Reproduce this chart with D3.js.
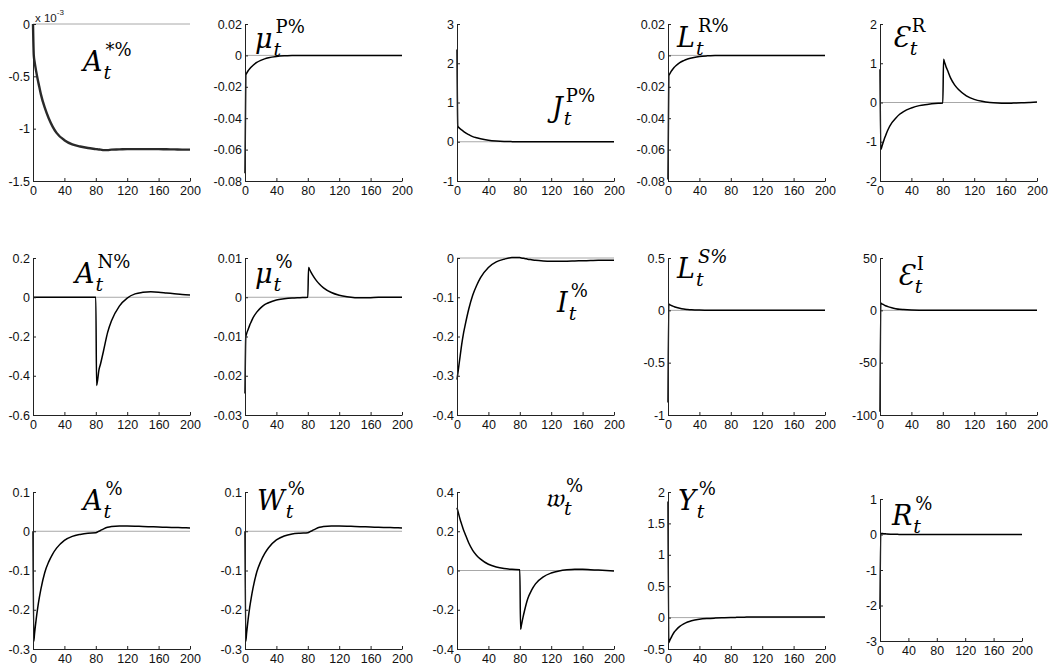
<!DOCTYPE html>
<html>
<head>
<meta charset="utf-8">
<script src="https://cdn.jsdelivr.net/npm/d3@7"></script>
<style>
  body { margin: 0; background: #fff; }
  .tick text { font-family: "Liberation Sans", Arial, sans-serif; font-size: 12.5px; fill: #111; }
  .axis path, .axis line { stroke: #222; }
</style>
</head>
<body>
<svg id="chart" width="1053" height="666"></svg>
<script>
// common time grid (periods) the curves were read at
var T = [0,1,2,4,6,8,10,15,20,25,30,40,50,60,70,80,81,82,84,86,90,95,100,110,120,130,140,150,160,170,180,190,200]
var xTicks = [0,40,80,120,160,200]

// series values, one per point of T
var aStar = [0,-0.3,-0.36,-0.45,-0.53,-0.6,-0.67,-0.8,-0.9,-0.98,-1.04,-1.11,-1.15,-1.17,-1.185,-1.195,-1.196,-1.197,-1.199,-1.2,-1.205,-1.205,-1.2,-1.198,-1.195,-1.195,-1.195,-1.195,-1.195,-1.197,-1.198,-1.2,-1.2]
var muP = [-0.075,-0.0125,-0.0115,-0.0098,-0.0085,-0.0074,-0.0064,-0.0045,-0.0032,-0.0022,-0.0015,-0.0007,-0.0003,-0.0001,0,0,0,0,0,0,0,0,0,0,0,0,0,0,0,0,0,0,0]
var jP = [2.35,0.4,0.37,0.33,0.3,0.27,0.24,0.18,0.13,0.1,0.075,0.04,0.02,0.008,0.003,0.001,0,0,0,0,0,0,0,0,0,0,0,0,0,0,0,0,0]
var lR = [-0.079,-0.013,-0.012,-0.0102,-0.0088,-0.0076,-0.0066,-0.0046,-0.0033,-0.0023,-0.0016,-0.0007,-0.0003,-0.0001,0,0,0,0,0,0,0,0,0,0,0,0,0,0,0,0,0,0,0]
var epsR = [0.85,-1.2,-1.15,-1.02,-0.9,-0.8,-0.7,-0.52,-0.4,-0.3,-0.23,-0.14,-0.08,-0.05,-0.025,-0.01,1.1,1.04,0.92,0.82,0.62,0.45,0.33,0.17,0.08,0.03,0,-0.015,-0.02,-0.015,-0.008,0,0.01]
var aN = [0,0,0,0,0,0,0,0,0,0,0,0,0,0,0,0,-0.45,-0.43,-0.37,-0.34,-0.27,-0.18,-0.12,-0.045,-0.004,0.017,0.025,0.028,0.026,0.022,0.018,0.014,0.012]
var mu = [-0.0245,-0.0101,-0.0093,-0.0082,-0.0071,-0.0062,-0.0053,-0.0038,-0.0027,-0.0019,-0.0014,-0.0007,-0.0004,-0.0002,-0.0001,0,0.0076,0.0072,0.0064,0.0057,0.0045,0.0033,0.0024,0.0012,0.0005,0.0001,-0.0001,-0.00015,-0.0001,0,0,0,0]
var iPct = [-0.31,-0.295,-0.28,-0.25,-0.22,-0.195,-0.175,-0.13,-0.095,-0.07,-0.05,-0.024,-0.01,-0.003,0.001,0.001,0.0005,0,-0.0005,-0.001,-0.003,-0.0045,-0.006,-0.0075,-0.008,-0.008,-0.008,-0.0075,-0.007,-0.0065,-0.006,-0.006,-0.006]
var lS = [-0.88,0.06,0.055,0.047,0.04,0.034,0.029,0.019,0.012,0.008,0.005,0.002,0.001,0,0,0,0,0,0,0,0,0,0,0,0,0,0,0,0,0,0,0,0]
var epsI = [-97,7,6.5,5.6,4.8,4.1,3.5,2.4,1.6,1,0.7,0.3,0.1,0,0,0,0,0,0,0,0,0,0,0,0,0,0,0,0,0,0,0,0]
var aPct = [0,-0.28,-0.26,-0.225,-0.195,-0.17,-0.148,-0.105,-0.078,-0.058,-0.043,-0.023,-0.013,-0.008,-0.005,-0.004,-0.003,-0.002,0,0.002,0.006,0.01,0.012,0.0135,0.0135,0.013,0.012,0.0115,0.011,0.01,0.0095,0.009,0.0085]
var wPct = [0,-0.28,-0.26,-0.224,-0.194,-0.169,-0.147,-0.104,-0.077,-0.057,-0.042,-0.022,-0.012,-0.007,-0.005,-0.004,-0.003,-0.002,0,0.002,0.006,0.01,0.012,0.0135,0.0135,0.013,0.012,0.0115,0.011,0.01,0.0095,0.009,0.0085]
var frakW = [0.32,0.305,0.29,0.26,0.235,0.21,0.19,0.14,0.103,0.077,0.058,0.032,0.018,0.01,0.006,0.004,-0.3,-0.28,-0.24,-0.205,-0.145,-0.1,-0.068,-0.032,-0.013,-0.002,0.004,0.007,0.006,0.004,0.002,0,-0.002]
var yPct = [1.85,-0.4,-0.37,-0.32,-0.27,-0.23,-0.2,-0.14,-0.1,-0.07,-0.05,-0.027,-0.015,-0.008,-0.003,0,0,0.001,0.002,0.003,0.005,0.006,0.008,0.009,0.01,0.01,0.01,0.01,0.01,0.01,0.01,0.01,0.01]
var rPct = [-2.1,0.03,0.028,0.025,0.022,0.019,0.016,0.01,0.006,0.004,0.002,0.001,0,0,0,0,0,0,0,0,0,0,0,0,0,0,0,0,0,0,0,0,0]

// y tick labels per panel
var ticksAStar = [-1.5,-1,-0.5,0]
var ticksMuP = [-0.08,-0.06,-0.04,-0.02,0,0.02]
var ticksJP = [-1,0,1,2,3]
var ticksEpsR = [-2,-1,0,1,2]
var ticksAN = [-0.6,-0.4,-0.2,0,0.2]
var ticksMu = [-0.03,-0.02,-0.01,0,0.01]
var ticksI = [-0.4,-0.3,-0.2,-0.1,0]
var ticksLS = [-1,-0.5,0,0.5]
var ticksEpsI = [-100,-50,0,50]
var ticksA = [-0.3,-0.2,-0.1,0,0.1]
var ticksFrakW = [-0.4,-0.2,0,0.2,0.4]
var ticksY = [-0.5,0,0.5,1,1.5,2]
var ticksR = [-3,-2,-1,0,1]

// panel layout: grid slot, label glyphs and label offset inside the panel
var colX = [33, 245, 457, 668, 880]
var rowY = [24, 258, 492]
var panelW = 157, panelH = 157

var panels = [
  {v: aStar, ticks: ticksAStar, letter: "A", sup: "*%", r: 0, c: 0, lx: 50, ly: 47, thick: true},
  {v: muP, ticks: ticksMuP, letter: "μ", sup: "P%", r: 0, c: 1, lx: 10, ly: 24},
  {v: jP, ticks: ticksJP, letter: "J", sup: "P%", r: 0, c: 2, lx: 95, ly: 93},
  {v: lR, ticks: ticksMuP, letter: "L", sup: "R%", r: 0, c: 3, lx: 9, ly: 23},
  {v: epsR, ticks: ticksEpsR, letter: "Ɛ", sup: "R", r: 0, c: 4, lx: 12, ly: 23},
  {v: aN, ticks: ticksAN, letter: "A", sup: "N%", r: 1, c: 0, lx: 42, ly: 25},
  {v: mu, ticks: ticksMu, letter: "μ", sup: "%", r: 1, c: 1, lx: 10, ly: 25},
  {v: iPct, ticks: ticksI, letter: "I", sup: "%", r: 1, c: 2, lx: 100, ly: 54},
  {v: lS, ticks: ticksLS, letter: "L", sup: "S%", r: 1, c: 3, lx: 9, ly: 20, supItalic: true},
  {v: epsI, ticks: ticksEpsI, letter: "Ɛ", sup: "I", r: 1, c: 4, lx: 17, ly: 27},
  {v: aPct, ticks: ticksA, letter: "A", sup: "%", r: 2, c: 0, lx: 50, ly: 18},
  {v: wPct, ticks: ticksA, letter: "W", sup: "%", r: 2, c: 1, lx: 12, ly: 18},
  {v: frakW, ticks: ticksFrakW, letter: "𝔴", sup: "%", r: 2, c: 2, lx: 88, ly: 15},
  {v: yPct, ticks: ticksY, letter: "Y", sup: "%", r: 2, c: 3, lx: 10, ly: 18},
  {v: rPct, ticks: ticksR, letter: "R", sup: "%", r: 2, c: 4, lx: 12, ly: 26, small: true}
]

var svg = d3.select("#chart")

panels.forEach(function(p) {
  var left = colX[p.c], top = rowY[p.r]
  var w = panelW, h = panelH
  if (p.small) { top = top + 7; w = 142; h = 142 }

  var g = svg.append("g").attr("transform", "translate(" + left + "," + top + ")")

  var x = d3.scaleLinear().domain([0, 200]).range([0, w])
  var y = d3.scaleLinear().domain([p.ticks[0], p.ticks[p.ticks.length - 1]]).range([h, 0])

  // zero reference line
  g.append("line")
    .attr("x1", 0).attr("x2", w)
    .attr("y1", y(0)).attr("y2", y(0))
    .attr("stroke", "#a8a8a8")
    .attr("stroke-width", 1)

  var line = d3.line()
    .x(function(d, i) { return x(T[i]) })
    .y(function(d) { return y(d) })
    .curve(d3.curveMonotoneX)

  g.append("path")
    .datum(p.v)
    .attr("d", line)
    .attr("fill", "none")
    .attr("stroke", p.thick ? "#2a2a2a" : "#000")
    .attr("stroke-width", p.thick ? 2.4 : 1.5)

  g.append("g")
    .attr("class", "axis")
    .attr("transform", "translate(0," + h + ")")
    .call(d3.axisBottom(x).tickValues(xTicks).tickSizeInner(-3).tickSizeOuter(0).tickPadding(5).tickFormat(function(d) { return String(d) }))

  g.append("g")
    .attr("class", "axis")
    .call(d3.axisLeft(y).tickValues(p.ticks).tickSizeInner(-3).tickSizeOuter(0).tickPadding(3).tickFormat(function(d) { return String(d) }))

  g.selectAll(".axis .domain").attr("stroke", "#222")

  // math label: letter with subscript t and superscript
  var lab = g.append("g").attr("transform", "translate(" + p.lx + "," + p.ly + ")")
  var main = lab.append("text")
    .attr("font-family", "'DejaVu Serif', 'Liberation Serif', serif")
    .attr("font-style", "italic")
    .attr("font-size", 27)
    .text(p.letter)
  var mw = main.node().getComputedTextLength()
  lab.append("text")
    .attr("x", mw + 1).attr("y", 8)
    .attr("font-family", "'DejaVu Serif', 'Liberation Serif', serif")
    .attr("font-style", "italic")
    .attr("font-size", 19)
    .text("t")
  lab.append("text")
    .attr("x", mw + 3).attr("y", -15)
    .attr("font-family", "'DejaVu Serif', 'Liberation Serif', serif")
    .attr("font-style", p.supItalic ? "italic" : "normal")
    .attr("font-size", 18)
    .text(p.sup)
})

// exponent note of the first panel
var ex = svg.append("text")
  .attr("x", colX[0] + 2).attr("y", rowY[0] - 2)
  .attr("font-family", "'Liberation Sans', Arial, sans-serif")
  .attr("font-size", 11.5)
  .attr("fill", "#222")
ex.append("tspan").text("x 10")
ex.append("tspan").attr("dy", -7).attr("font-size", 8).text("-3")
</script>
</body>
</html>
